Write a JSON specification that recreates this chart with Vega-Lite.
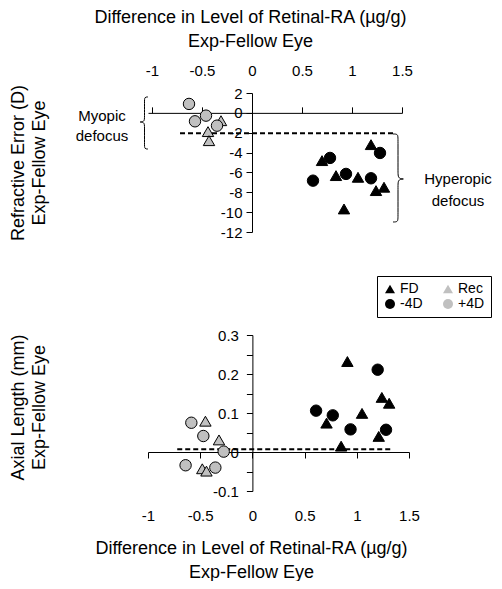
{
  "$schema": "https://vega.github.io/schema/vega-lite/v6.json",
  "padding": {"left": 8, "top": 8, "right": 0, "bottom": 0},
  "config": {
    "font": "Liberation Sans",
    "view": {"stroke": null},
    "axis": {"grid": false, "domainColor": "black", "tickColor": "black", "labelColor": "black", "titleColor": "black", "labelFontSize": 15, "titleFontSize": 18, "titleFontWeight": "normal", "domainWidth": 1, "tickWidth": 1, "labelOverlap": false, "labelFlush": false, "labelBound": false, "tickSize": 6},
    "legend": {"strokeColor": "black", "strokeWidth": 1, "padding": 6, "labelFontSize": 14, "labelColor": "black", "symbolSize": 100, "symbolStrokeColor": "black", "symbolStrokeWidth": 1, "columnPadding": 18, "rowPadding": 1, "labelOffset": 3}
  },
  "datasets": {
    "re": [
      {"x": 0.70, "y": -4.81, "g": "FD"}, {"x": 0.84, "y": -6.32, "g": "FD"}, {"x": 1.06, "y": -6.49, "g": "FD"}, {"x": 1.19, "y": -3.20, "g": "FD"}, {"x": 1.24, "y": -7.83, "g": "FD"}, {"x": 1.32, "y": -7.49, "g": "FD"}, {"x": 0.92, "y": -9.68, "g": "FD"},
      {"x": -0.31, "y": -0.79, "g": "Rec"}, {"x": -0.44, "y": -1.89, "g": "Rec"}, {"x": -0.43, "y": -2.80, "g": "Rec"},
      {"x": 0.61, "y": -6.83, "g": "-4D"}, {"x": 0.78, "y": -4.54, "g": "-4D"}, {"x": 0.94, "y": -6.15, "g": "-4D"}, {"x": 1.19, "y": -6.59, "g": "-4D"}, {"x": 1.28, "y": -4.04, "g": "-4D"},
      {"x": -0.63, "y": 0.90, "g": "+4D"}, {"x": -0.57, "y": -0.85, "g": "+4D"}, {"x": -0.46, "y": -0.28, "g": "+4D"}, {"x": -0.35, "y": -1.29, "g": "+4D"}
    ],
    "al": [
      {"x": 0.71, "y": 0.074, "g": "FD"}, {"x": 0.91, "y": 0.232, "g": "FD"}, {"x": 1.05, "y": 0.099, "g": "FD"}, {"x": 1.24, "y": 0.140, "g": "FD"}, {"x": 1.31, "y": 0.125, "g": "FD"}, {"x": 1.21, "y": 0.040, "g": "FD"}, {"x": 0.85, "y": 0.015, "g": "FD"},
      {"x": -0.45, "y": 0.079, "g": "Rec"}, {"x": -0.32, "y": 0.031, "g": "Rec"}, {"x": -0.48, "y": -0.043, "g": "Rec"}, {"x": -0.44, "y": -0.049, "g": "Rec"},
      {"x": 0.61, "y": 0.106, "g": "-4D"}, {"x": 0.77, "y": 0.094, "g": "-4D"}, {"x": 0.94, "y": 0.058, "g": "-4D"}, {"x": 1.20, "y": 0.211, "g": "-4D"}, {"x": 1.28, "y": 0.057, "g": "-4D"},
      {"x": -0.585, "y": 0.075, "g": "+4D"}, {"x": -0.47, "y": 0.041, "g": "+4D"}, {"x": -0.275, "y": 0.001, "g": "+4D"}, {"x": -0.64, "y": -0.034, "g": "+4D"}, {"x": -0.355, "y": -0.040, "g": "+4D"}
    ],
    "braces": [
      {"id": "h", "o": 1, "x": 1.41, "y": -2.13}, {"id": "h", "o": 2, "x": 1.46, "y": -2.13}, {"id": "h", "o": 3, "x": 1.46, "y": -2.6}, {"id": "h", "o": 4, "x": 1.46, "y": -6.0}, {"id": "h", "o": 5, "x": 1.46, "y": -6.66}, {"id": "h", "o": 6, "x": 1.54, "y": -6.66}, {"id": "h", "o": 7, "x": 1.46, "y": -6.66}, {"id": "h", "o": 8, "x": 1.46, "y": -7.3}, {"id": "h", "o": 9, "x": 1.46, "y": -10.5}, {"id": "h", "o": 10, "x": 1.46, "y": -10.99}, {"id": "h", "o": 11, "x": 1.41, "y": -10.99},
      {"id": "m", "o": 1, "x": -1.04, "y": 1.6}, {"id": "m", "o": 2, "x": -1.075, "y": 1.6}, {"id": "m", "o": 3, "x": -1.075, "y": 1.15}, {"id": "m", "o": 4, "x": -1.075, "y": -0.45}, {"id": "m", "o": 5, "x": -1.075, "y": -0.92}, {"id": "m", "o": 6, "x": -1.14, "y": -0.92}, {"id": "m", "o": 7, "x": -1.075, "y": -0.92}, {"id": "m", "o": 8, "x": -1.075, "y": -1.4}, {"id": "m", "o": 9, "x": -1.075, "y": -3.2}, {"id": "m", "o": 10, "x": -1.075, "y": -3.64}, {"id": "m", "o": 11, "x": -1.04, "y": -3.64}
    ],
    "notes": [
      {"x": -1.5, "y": -0.3, "t": "Myopic"}, {"x": -1.5, "y": -2.3, "t": "defocus"},
      {"x": 2.06, "y": -6.66, "t": "Hyperopic"}, {"x": 2.06, "y": -8.87, "t": "defocus"}
    ]
  },
  "concat": [
    {
      "width": 254,
      "height": 139,
      "layer": [
        {
          "data": {"values": [{"x": -0.72, "x2": 1.41, "y": -2.05}]},
          "mark": {"type": "rule", "strokeDash": [5, 3], "strokeWidth": 2, "color": "black"},
          "encoding": {
            "x": {"field": "x", "type": "quantitative", "scale": {"domain": [-1.04, 1.5], "nice": false, "zero": false}},
            "x2": {"field": "x2"},
            "y": {"field": "y", "type": "quantitative", "scale": {"domain": [-12, 2], "nice": false, "zero": false}}
          }
        },
        {
          "data": {"name": "re"},
          "mark": {"type": "point", "filled": true, "stroke": "black", "strokeWidth": 1, "opacity": 1, "size": 130},
          "encoding": {
            "x": {"field": "x", "type": "quantitative", "scale": {"domain": [-1.04, 1.5], "nice": false, "zero": false},
              "axis": {"orient": "top", "offset": -19.86, "values": [-1, -0.5, 0, 0.5, 1, 1.5], "tickCount": 20, "labelExpr": "'' + datum.value", "labelPadding": 28, "labelOverlap": false,
                "title": ["Difference in Level of Retinal-RA (µg/g)", "Exp-Fellow Eye"], "titlePadding": 13, "titleX": 102, "titleLineHeight": 24}},
            "y": {"field": "y", "type": "quantitative", "scale": {"domain": [-12, 2], "nice": false, "zero": false},
              "axis": {"orient": "left", "offset": -104, "values": [2, 0, -2, -4, -6, -8, -10, -12], "tickCount": 20, "labelExpr": "'' + datum.value", "labelPadding": 4, "labelOverlap": false,
                "title": ["Refractive Error (D)", "Exp-Fellow Eye"], "titleAngle": 270, "titleX": -234, "titleY": 69.5, "titleAlign": "center", "titleBaseline": "middle", "titleLineHeight": 21}},
            "shape": {"field": "g", "type": "nominal", "scale": {"domain": ["FD", "Rec", "-4D", "+4D"], "range": ["triangle-up", "triangle-up", "circle", "circle"]},
              "legend": {"orient": "none", "legendX": 229, "legendY": 183, "columns": 2, "direction": "horizontal", "title": null, "symbolStrokeColor": "black", "symbolStrokeWidth": 1,
                "encode": {"symbols": {"update": {"stroke": {"value": "black"}, "strokeWidth": {"value": 1}, "opacity": {"value": 1}}}}}},
            "fill": {"field": "g", "type": "nominal", "scale": {"domain": ["FD", "Rec", "-4D", "+4D"], "range": ["black", "#c0c0c0", "black", "#c0c0c0"]},
              "legend": {"orient": "none", "legendX": 229, "legendY": 183, "columns": 2, "direction": "horizontal", "title": null, "symbolStrokeColor": "black", "symbolStrokeWidth": 1,
                "encode": {"symbols": {"update": {"stroke": {"value": "black"}, "strokeWidth": {"value": 1}, "opacity": {"value": 1}}}}}}
          }
        },
        {
          "data": {"name": "braces"},
          "mark": {"type": "line", "interpolate": "basis", "color": "black", "strokeWidth": 1},
          "encoding": {
            "x": {"field": "x", "type": "quantitative", "scale": {"domain": [-1.04, 1.5], "nice": false, "zero": false}},
            "y": {"field": "y", "type": "quantitative", "scale": {"domain": [-12, 2], "nice": false, "zero": false}},
            "order": {"field": "o", "type": "quantitative"},
            "detail": {"field": "id", "type": "nominal"}
          }
        },
        {
          "data": {"name": "notes"},
          "mark": {"type": "text", "fontSize": 15, "align": "center", "baseline": "middle", "color": "black"},
          "encoding": {
            "x": {"field": "x", "type": "quantitative", "scale": {"domain": [-1.04, 1.5], "nice": false, "zero": false}},
            "y": {"field": "y", "type": "quantitative", "scale": {"domain": [-12, 2], "nice": false, "zero": false}},
            "text": {"field": "t", "type": "nominal"}
          }
        }
      ]
    },
    {
      "width": 261,
      "height": 156,
      "layer": [
        {
          "data": {"values": [{"x": -0.72, "x2": 1.33, "y": 0.007}]},
          "mark": {"type": "rule", "strokeDash": [5, 3], "strokeWidth": 2, "color": "black"},
          "encoding": {
            "x": {"field": "x", "type": "quantitative", "scale": {"domain": [-1, 1.5], "nice": false, "zero": false}},
            "x2": {"field": "x2"},
            "y": {"field": "y", "type": "quantitative", "scale": {"domain": [-0.1, 0.3], "nice": false, "zero": false}}
          }
        },
        {
          "data": {"name": "al"},
          "mark": {"type": "point", "filled": true, "stroke": "black", "strokeWidth": 1, "opacity": 1, "size": 130},
          "encoding": {
            "x": {"field": "x", "type": "quantitative", "scale": {"domain": [-1, 1.5], "nice": false, "zero": false},
              "axis": {"orient": "bottom", "offset": -39, "values": [-1, -0.5, 0, 0.5, 1, 1.5], "tickCount": 20, "labelExpr": "'' + datum.value", "labelPadding": 50, "labelOverlap": false,
                "title": ["Difference in Level of Retinal-RA (µg/g)", "Exp-Fellow Eye"], "titlePadding": 16, "titleX": 103, "titleLineHeight": 24}},
            "y": {"field": "y", "type": "quantitative", "scale": {"domain": [-0.1, 0.3], "nice": false, "zero": false},
              "axis": {"orient": "left", "offset": -104.4, "values": [-0.1, -0.05, 0, 0.05, 0.1, 0.15, 0.2, 0.25, 0.3], "tickCount": 20, "labelExpr": "indexof([-0.1, 0, 0.1, 0.2, 0.3], datum.value) >= 0 ? '' + datum.value : ''", "labelPadding": 8, "labelOverlap": false,
                "title": ["Axial Length (mm)", "Exp-Fellow Eye"], "titleAngle": 270, "titleX": -234, "titleY": 72, "titleAlign": "center", "titleBaseline": "middle", "titleLineHeight": 21}},
            "shape": {"field": "g", "type": "nominal", "scale": {"domain": ["FD", "Rec", "-4D", "+4D"], "range": ["triangle-up", "triangle-up", "circle", "circle"]},
              "legend": {"orient": "none", "legendX": 229, "legendY": 183, "columns": 2, "direction": "horizontal", "title": null, "symbolStrokeColor": "black", "symbolStrokeWidth": 1,
                "encode": {"symbols": {"update": {"stroke": {"value": "black"}, "strokeWidth": {"value": 1}, "opacity": {"value": 1}}}}}},
            "fill": {"field": "g", "type": "nominal", "scale": {"domain": ["FD", "Rec", "-4D", "+4D"], "range": ["black", "#c0c0c0", "black", "#c0c0c0"]},
              "legend": {"orient": "none", "legendX": 229, "legendY": 183, "columns": 2, "direction": "horizontal", "title": null, "symbolStrokeColor": "black", "symbolStrokeWidth": 1,
                "encode": {"symbols": {"update": {"stroke": {"value": "black"}, "strokeWidth": {"value": 1}, "opacity": {"value": 1}}}}}}
          }
        }
      ]
    }
  ],
  "columns": 1,
  "align": "none",
  "spacing": 87
}
